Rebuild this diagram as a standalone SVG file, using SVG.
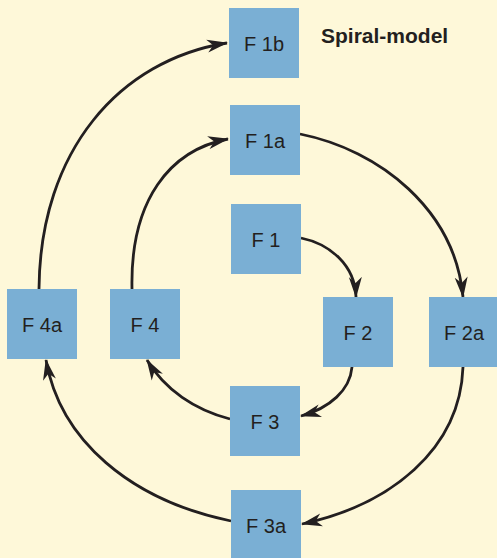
<svg xmlns="http://www.w3.org/2000/svg" width="497" height="558" viewBox="0 0 497 558">
<style>
.box{fill:#7aafd4}
.lbl{font-family:"Liberation Sans",Arial,sans-serif;font-size:20px;fill:#231f20;text-anchor:middle}
.title{font-family:"Liberation Sans",Arial,sans-serif;font-size:21px;font-weight:bold;fill:#231f20}
.con{fill:none;stroke:#231f20;stroke-width:2.8;marker-end:url(#arr)}
</style>
<defs>
<marker id="arr" markerUnits="userSpaceOnUse" markerWidth="22" markerHeight="14" refX="20" refY="7" orient="auto">
<path d="M0,0.5 L21,7 L0,13.5 L6,7 Z" fill="#231f20"/>
</marker>
</defs>
<rect width="497" height="558" fill="#fef8d9"/>
<text class="title" x="321" y="43">Spiral-model</text>
<g id="connectors">
<path class="con" d="M301,238 C330,244 355,265 356,297"/>
<path class="con" d="M352,367 C350,390 330,408 301,416"/>
<path class="con" d="M230,419 C195,410 165,390 147,360"/>
<path class="con" d="M132,289 C130,200 170,150 228,139"/>
<path class="con" d="M300,134 C380,150 455,210 463,297"/>
<path class="con" d="M463,367 C460,450 390,505 302,524"/>
<path class="con" d="M231,521 C130,500 60,440 46,360"/>
<path class="con" d="M39,289 C40,150 120,60 227,43"/>
</g>
<g id="F1b"><rect class="box" x="229" y="8" width="70" height="70"/><text class="lbl" x="264" y="51">F 1b</text></g>
<g id="F1a"><rect class="box" x="230" y="105" width="70" height="70"/><text class="lbl" x="265" y="148">F 1a</text></g>
<g id="F1"><rect class="box" x="231" y="204" width="70" height="70"/><text class="lbl" x="266" y="247">F 1</text></g>
<g id="F2"><rect class="box" x="323" y="297" width="70" height="70"/><text class="lbl" x="358" y="340">F 2</text></g>
<g id="F2a"><rect class="box" x="429" y="297" width="70" height="70"/><text class="lbl" x="464" y="340">F 2a</text></g>
<g id="F3"><rect class="box" x="230" y="386" width="70" height="70"/><text class="lbl" x="265" y="429">F 3</text></g>
<g id="F3a"><rect class="box" x="231" y="490" width="70" height="70"/><text class="lbl" x="266" y="533">F 3a</text></g>
<g id="F4"><rect class="box" x="110" y="289" width="70" height="70"/><text class="lbl" x="145" y="332">F 4</text></g>
<g id="F4a"><rect class="box" x="7" y="289" width="70" height="70"/><text class="lbl" x="42" y="332">F 4a</text></g>
</svg>
